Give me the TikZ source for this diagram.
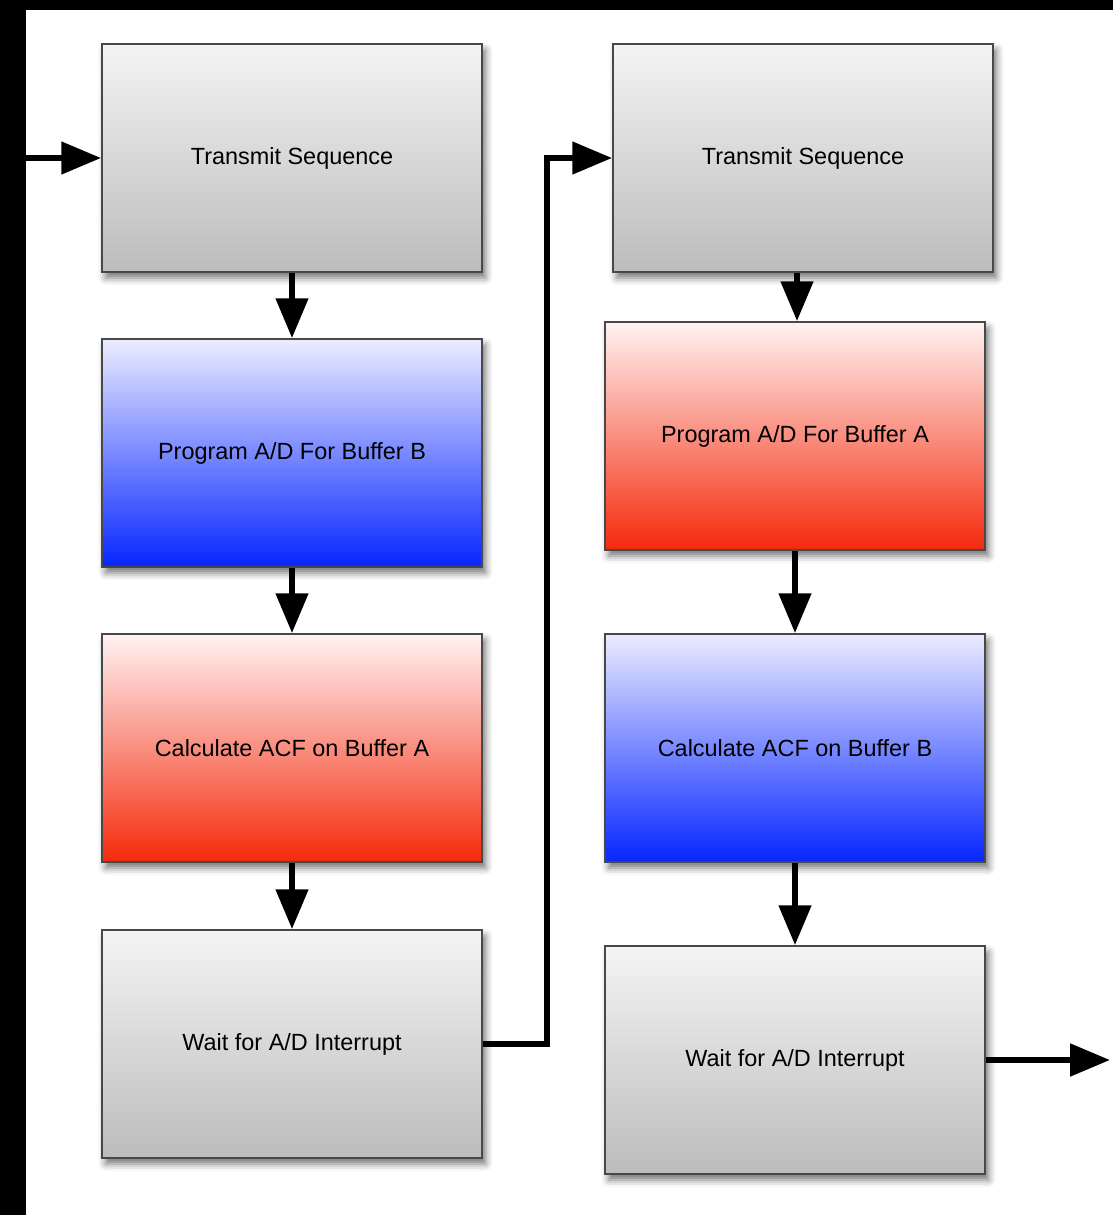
\documentclass[tikz,border=0pt]{standalone}
\usepackage{fontspec}
\setmainfont{Liberation Sans}
\usetikzlibrary{arrows.meta,shadows.blur}
\definecolor{greytop}{RGB}{244,244,244}
\definecolor{greybot}{RGB}{188,188,188}
\definecolor{bluetop}{RGB}{236,236,255}
\definecolor{bluebot}{RGB}{5,38,255}
\definecolor{redtop}{RGB}{255,242,242}
\definecolor{redbot}{RGB}{244,42,12}
\definecolor{boxline}{RGB}{72,72,72}
\begin{document}
\begin{tikzpicture}[x=0.03cm,y=-0.03cm,
  stage/.style={draw=boxline,line width=1.5pt,minimum width=11.4cm,minimum height=6.84cm,
    inner sep=0pt,font=\fontsize{20}{24}\selectfont,
    blur shadow={shadow xshift=3pt,shadow yshift=-5pt,shadow blur radius=6pt,shadow opacity=55}},
  greystage/.style={stage,top color=greytop,bottom color=greybot},
  bluestage/.style={stage,top color=bluetop,bottom color=bluebot},
  redstage/.style={stage,top color=redtop,bottom color=redbot},
  flow/.style={line width=5pt,-{Triangle[length=34pt,width=27pt]}}]
\useasboundingbox (0,0) rectangle (1113,1215);
%%% black frame on top and left
\fill[black] (0,0) rectangle (1113,10);
\fill[black] (0,0) rectangle (26,1215);
%%% first pass (left column)
\node[greystage] (l1) at (292,158) {Transmit Sequence};
\node[bluestage] (l2) at (292,453) {Program A/D For Buffer B};
\node[redstage]  (l3) at (292,748) {Calculate ACF on Buffer A};
\node[greystage] (l4) at (292,1044) {Wait for A/D Interrupt};
%%% second pass (right column)
\node[greystage] (r1) at (803,158) {Transmit Sequence};
\node[redstage]  (r2) at (795,436) {Program A/D For Buffer A};
\node[bluestage] (r3) at (795,748) {Calculate ACF on Buffer B};
\node[greystage] (r4) at (795,1060) {Wait for A/D Interrupt};
\coordinate (entry) at (26,158);
\coordinate (exit) at (1110,1060);
\draw[flow] (entry) -- (l1.west);
\draw[flow] (l1) -- (l2);
\draw[flow] (l2) -- (l3);
\draw[flow] (l3) -- (l4);
\draw[flow] (l4.east) -- ++(64,0) |- (r1.west);
\draw[flow] ([xshift=2*0.03cm]r2.north |- r1.south) -- ([xshift=2*0.03cm]r2.north);
\draw[flow] (r2) -- (r3);
\draw[flow] (r3) -- (r4);
\draw[flow] (r4.east) -- (exit);
\end{tikzpicture}
\end{document}
